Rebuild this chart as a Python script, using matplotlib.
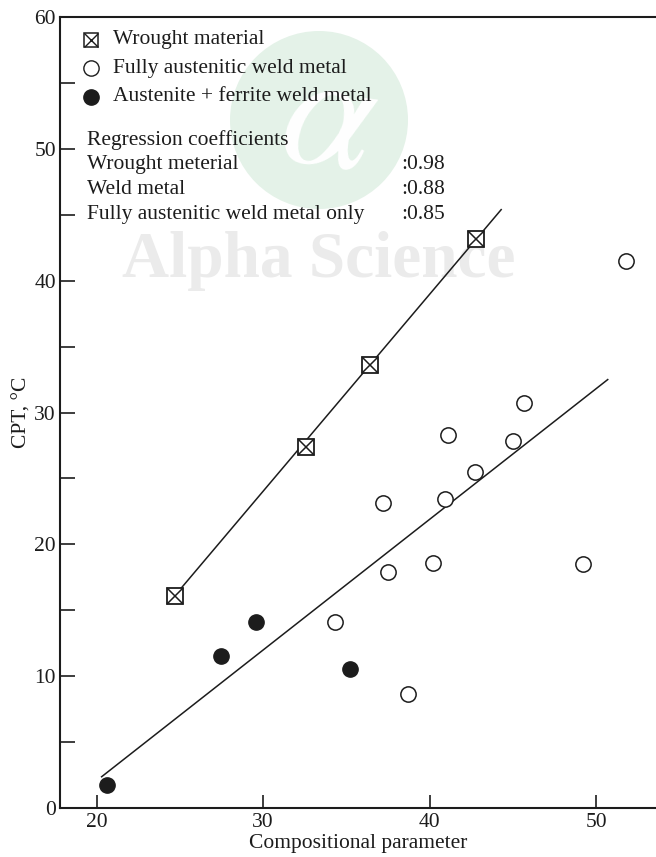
import matplotlib
matplotlib.use("Agg")
import matplotlib.pyplot as plt
from matplotlib.patches import Circle
import numpy as np

plt.rcParams['font.family'] = ['Liberation Serif', 'DejaVu Serif']
plt.rcParams['mathtext.fontset'] = 'stix'

INK = '#1c1c1c'

# Wrought material (crossed squares)
wrought_x = [24.7, 32.6, 36.4, 42.8]
wrought_y = [16.1, 27.4, 33.6, 43.2]

# Fully austenitic weld metal (open circles)
aust_x = [34.3, 37.2, 37.5, 38.7, 40.2, 40.9, 41.1, 42.7, 45.0, 45.7, 49.2, 51.8]
aust_y = [14.1, 23.1, 17.9, 8.6, 18.6, 23.4, 28.3, 25.5, 27.8, 30.7, 18.5, 41.5]

# Austenite + ferrite weld metal (filled circles)
ferr_x = [20.6, 27.5, 29.6, 35.2]
ferr_y = [1.7, 11.5, 14.1, 10.5]

# Regression lines (end points)
fit_wrought_x = [24.7, 44.3]
fit_wrought_y = [16.1, 45.4]
fit_weld_x = [20.3, 50.7]
fit_weld_y = [2.35, 32.5]

coef_labels = ['Wrought meterial', 'Weld metal', 'Fully austenitic weld metal only']
coef_values = [':0.98', ':0.88', ':0.85']

W, H = 656, 857
fig = plt.figure(figsize=(W / 100, H / 100), dpi=100)
ax = fig.add_axes([60 / W, 1 - 807.7 / H, (W - 60) / W, (807.7 - 17.3) / H])
ax.set_zorder(5)
ax.set_facecolor('none')

ax.set_xlim(17.8, 53.6)
ax.set_ylim(0, 60)

# faint publisher watermark behind the plot
wm = Circle((319, H - 120), 89, transform=None, facecolor='#e4f2e8',
            edgecolor='none', zorder=0)
fig.patches.append(wm)
fig.text(328 / W, 1 - 125 / H, r'$\alpha$', color='white', fontsize=120,
         ha='center', va='center', zorder=1, rotation=-8)
fig.text(319 / W, 1 - 277 / H, 'Alpha Science', color='#ebebeb', fontsize=47,
         fontweight='bold', ha='center', va='baseline', zorder=1)

ms = 11
ax.plot(fit_wrought_x, fit_wrought_y, color=INK, lw=1.1, zorder=2)
ax.plot(fit_weld_x, fit_weld_y, color=INK, lw=1.1, zorder=2)

ax.plot(wrought_x, wrought_y, ls='none', marker='s', ms=11.5, mfc='white',
        mec=INK, mew=1.3, zorder=3)
ax.plot(wrought_x, wrought_y, ls='none', marker='x', ms=11.5, mec=INK,
        mew=1.1, zorder=4)
ax.plot(aust_x, aust_y, ls='none', marker='o', ms=ms, mfc='white', mec=INK,
        mew=1.1, zorder=3)
ax.plot(ferr_x, ferr_y, ls='none', marker='o', ms=ms, mfc=INK, mec=INK,
        mew=1.0, zorder=3)

# key in the upper left corner
def fx(px):
    return (px - 60) / 596

def fy(py):
    return (807.7 - py) / 790.4

fs = 15.5
key_rows = [40, 68.3, 96.7]
key_text = ['Wrought material', 'Fully austenitic weld metal',
            'Austenite + ferrite weld metal']
mx = fx(90.7)
ax.plot([mx], [fy(key_rows[0])], transform=ax.transAxes, marker='s', ms=10.5,
        mfc='white', mec=INK, mew=1.1, clip_on=False)
ax.plot([mx], [fy(key_rows[0])], transform=ax.transAxes, marker='x', ms=10.5,
        mec=INK, mew=1.0, clip_on=False)
ax.plot([mx], [fy(key_rows[1])], transform=ax.transAxes, marker='o', ms=11,
        mfc='white', mec=INK, mew=1.0, clip_on=False)
ax.plot([mx], [fy(key_rows[2])], transform=ax.transAxes, marker='o', ms=11,
        mfc=INK, mec=INK, clip_on=False)
for r, t in zip(key_rows, key_text):
    ax.text(fx(113), fy(r), t, transform=ax.transAxes, fontsize=fs,
            color=INK, va='center', ha='left')

ax.text(fx(87), fy(140), 'Regression coefficients', transform=ax.transAxes,
        fontsize=fs, color=INK, va='center', ha='left')
for r, lab, val in zip([165, 190, 215], coef_labels, coef_values):
    ax.text(fx(87), fy(r), lab, transform=ax.transAxes, fontsize=fs,
            color=INK, va='center', ha='left')
    ax.text(fx(401.7), fy(r), val, transform=ax.transAxes, fontsize=fs,
            color=INK, va='center', ha='left')

# axes styling
ax.spines['right'].set_visible(False)
for s in ['left', 'top', 'bottom']:
    ax.spines[s].set_linewidth(1.5)
    ax.spines[s].set_color(INK)

ax.set_xticks([20, 30, 40, 50])
ax.set_yticks([0, 10, 20, 30, 40, 50, 60])
ax.set_yticks(np.arange(5, 60, 10), minor=True)
ax.tick_params(axis='both', which='both', direction='in', length=10.5,
               width=1.2, color=INK, labelsize=fs, labelcolor=INK, pad=3)
ax.tick_params(axis='x', which='major', length=9.5, pad=4)

ax.set_xlabel('Compositional parameter', fontsize=fs, color=INK, labelpad=1)
ax.set_ylabel('CPT, °C', fontsize=fs, color=INK, labelpad=2)

fig.savefig('out.png', dpi=100)
